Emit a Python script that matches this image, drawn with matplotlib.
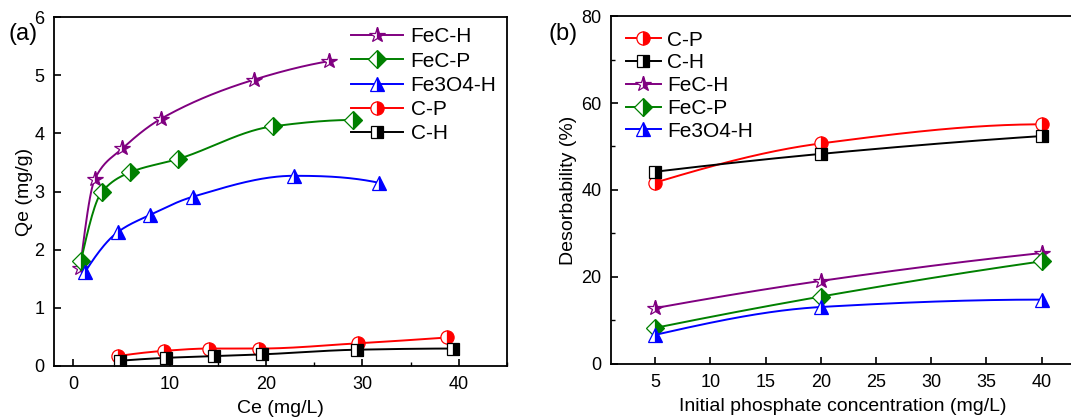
import matplotlib
matplotlib.use("Agg")
import matplotlib.pyplot as plt
import numpy as np
from matplotlib.ticker import MultipleLocator

plt.rcParams["font.family"] = ["Liberation Sans", "DejaVu Sans"]

PURPLE = "#800080"
GREEN = "#008000"
BLUE = "#0000ff"
RED = "#ff0000"
BLACK = "#000000"

# (a) adsorption isotherms: Ce (mg/L) vs Qe (mg/g)
fech_ce = [0.7, 2.25, 5.1, 9.1, 18.7, 26.5]
fech_qe = [1.68, 3.22, 3.74, 4.25, 4.92, 5.24]
fecp_ce = [0.8, 2.95, 5.9, 10.9, 20.7, 29.0]
fecp_qe = [1.81, 2.99, 3.33, 3.56, 4.12, 4.23]
fe3o4_ce = [1.2, 4.6, 8.0, 12.4, 22.9, 31.7]
fe3o4_qe = [1.61, 2.30, 2.60, 2.91, 3.27, 3.15]
cp_ce = [4.6, 9.4, 14.1, 19.3, 29.5, 38.8]
cp_qe = [0.17, 0.26, 0.30, 0.30, 0.39, 0.49]
ch_ce = [4.8, 9.6, 14.6, 19.6, 29.4, 39.4]
ch_qe = [0.09, 0.14, 0.17, 0.20, 0.28, 0.30]

# (b) desorbability (%) vs initial phosphate concentration (mg/L)
conc = [5, 20, 40]
des_cp = [41.7, 50.7, 55.1]
des_ch = [44.2, 48.3, 52.4]
des_fech = [12.85, 19.1, 25.5]
des_fecp = [8.3, 15.5, 23.6]
des_fe3o4 = [6.7, 13.1, 14.8]


def pchip(x, y, n=200):
    # shape-preserving cubic through the points (Fritsch-Carlson)
    x = np.asarray(x, float)
    y = np.asarray(y, float)
    h = np.diff(x)
    delta = np.diff(y) / h
    k = len(x)
    m = np.zeros(k)
    for i in range(1, k - 1):
        if delta[i - 1] * delta[i] > 0:
            w1 = 2 * h[i] + h[i - 1]
            w2 = h[i] + 2 * h[i - 1]
            m[i] = (w1 + w2) / (w1 / delta[i - 1] + w2 / delta[i])
    m[0] = delta[0]
    m[-1] = delta[-1]
    if k > 2:
        m[0] = ((2 * h[0] + h[1]) * delta[0] - h[0] * delta[1]) / (h[0] + h[1])
        if np.sign(m[0]) != np.sign(delta[0]):
            m[0] = 0
        m[-1] = ((2 * h[-1] + h[-2]) * delta[-1] - h[-1] * delta[-2]) / (h[-1] + h[-2])
        if np.sign(m[-1]) != np.sign(delta[-1]):
            m[-1] = 0
    xs = np.linspace(x[0], x[-1], n)
    idx = np.clip(np.searchsorted(x, xs) - 1, 0, k - 2)
    t = (xs - x[idx]) / h[idx]
    h00 = 2 * t ** 3 - 3 * t ** 2 + 1
    h10 = t ** 3 - 2 * t ** 2 + t
    h01 = -2 * t ** 3 + 3 * t ** 2
    h11 = t ** 3 - t ** 2
    ys = (h00 * y[idx] + h10 * h[idx] * m[idx]
          + h01 * y[idx + 1] + h11 * h[idx] * m[idx + 1])
    return xs, ys


def draw(ax, x, y, color, marker, label, ms=9.5):
    xs, ys = pchip(x, y)
    ax.plot(xs, ys, color=color, lw=1.4)
    ax.plot(x, y, ls="none", marker=marker, ms=ms, color=color,
            fillstyle="right", markerfacecoloralt="white",
            markeredgecolor=color, mew=0.9)
    # legend proxy
    ax.plot([], [], color=color, lw=1.4, marker=marker, ms=ms,
            fillstyle="right", markerfacecoloralt="white",
            markeredgecolor=color, mew=0.9, label=label)


def style(ax):
    ax.tick_params(which="both", direction="in", top=False, right=False,
                   labelsize=13, pad=7)
    ax.tick_params(which="major", length=5, width=1.2)
    ax.tick_params(which="minor", length=3, width=1.0)
    for s in ax.spines.values():
        s.set_linewidth(1.3)


fig = plt.figure(figsize=(10.71, 4.19), dpi=100)

ax1 = fig.add_axes([0.0504, 0.1265, 0.4230, 0.8329])
draw(ax1, fech_ce, fech_qe, PURPLE, "*", "FeC-H", ms=11.5)
draw(ax1, fecp_ce, fecp_qe, GREEN, "D", "FeC-P", ms=9)
draw(ax1, fe3o4_ce, fe3o4_qe, BLUE, "^", "Fe3O4-H")
draw(ax1, cp_ce, cp_qe, RED, "o", "C-P")
draw(ax1, ch_ce, ch_qe, BLACK, "s", "C-H", ms=8.5)
ax1.set_xlim(-2, 45)
ax1.set_ylim(0, 6)
ax1.xaxis.set_major_locator(MultipleLocator(10))
ax1.xaxis.set_minor_locator(MultipleLocator(5))
ax1.yaxis.set_major_locator(MultipleLocator(1))
ax1.set_xlabel("Ce (mg/L)", fontsize=14, labelpad=5)
ax1.set_ylabel("Qe (mg/g)", fontsize=14, labelpad=1)
style(ax1)
ax1.legend(loc="upper right", frameon=False, fontsize=15, handlelength=2.5,
           borderaxespad=0.1, labelspacing=0.25, handletextpad=0.35,
           bbox_to_anchor=(1.0, 1.0))
fig.text(0.008, 0.905, "(a)", fontsize=17)

ax2 = fig.add_axes([0.5705, 0.1313, 0.4330, 0.8305])
draw(ax2, conc, des_cp, RED, "o", "C-P")
draw(ax2, conc, des_ch, BLACK, "s", "C-H", ms=8.5)
draw(ax2, conc, des_fech, PURPLE, "*", "FeC-H", ms=11.5)
draw(ax2, conc, des_fecp, GREEN, "D", "FeC-P", ms=9)
draw(ax2, conc, des_fe3o4, BLUE, "^", "Fe3O4-H")
ax2.set_xlim(1, 43)
ax2.set_ylim(0, 80)
ax2.xaxis.set_major_locator(MultipleLocator(5))
ax2.yaxis.set_major_locator(MultipleLocator(20))
ax2.yaxis.set_minor_locator(MultipleLocator(10))
ax2.set_xlabel("Initial phosphate concentration (mg/L)", fontsize=14,
               labelpad=5)
ax2.set_ylabel("Desorbability (%)", fontsize=14, labelpad=3)
style(ax2)
ax2.legend(loc="upper left", frameon=False, fontsize=15, handlelength=1.7,
           borderaxespad=0.3, labelspacing=0.18, handletextpad=0.3,
           bbox_to_anchor=(0.0, 1.0))
fig.text(0.512, 0.905, "(b)", fontsize=17)

fig.savefig("out.png", dpi=100)
